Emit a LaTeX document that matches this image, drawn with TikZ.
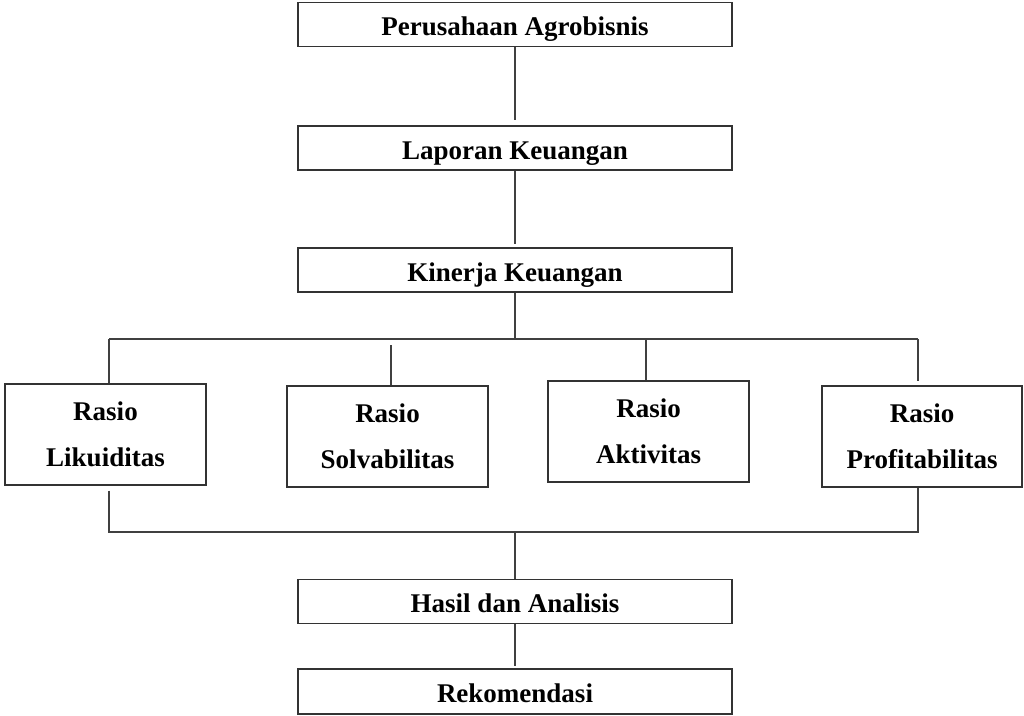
\documentclass[tikz,border=0pt]{standalone}
\usepackage{fontspec}
\setmainfont{Liberation Serif}
\usepackage{tikz}
\usetikzlibrary{positioning}

\begin{document}
\begin{tikzpicture}[x=1pt, y=-1pt,
  frame/.style={draw=black!80, line width=1.4pt, inner sep=0pt, align=center,
    font=\fontsize{27}{46}\selectfont\bfseries},
  box/.style={frame, minimum width=434pt, minimum height=44pt, text height=22pt, text depth=0pt},
  ratio/.style={frame, minimum width=201pt, minimum height=101pt},
  link/.style={draw=black!75, line width=1.4pt}]
\useasboundingbox (0,0) rectangle (1024,715);
% Upper chain
\node[box] (perusahaan) at (515, 24.5) {Perusahaan Agrobisnis};
\node[box] (laporan) at (515, 148) {Laporan Keuangan};
\node[box] (kinerja) at (515, 270) {Kinerja Keuangan};
\draw[link] (perusahaan.south) -- ++(0,73) coordinate (upA);
\draw[link] (laporan.south) -- ++(0,73) coordinate (upB);

% Ratio boxes
\node[ratio] (likuiditas) at (105.5, 434.5) {Rasio\\Likuiditas};
\node[ratio] (solvabilitas) at (387.5, 436.5) {Rasio\\Solvabilitas};
\node[ratio] (aktivitas) at (648.5, 431.5) {Rasio\\Aktivitas};
\node[ratio, minimum width=200pt] (profitabilitas) at (922, 436.5) {Rasio\\Profitabilitas};

% Upper bus
\coordinate (busL) at (109, 339);
\coordinate (busR) at (918, 339);
\coordinate (busS) at (391, 345);
\coordinate (busA) at (646, 339);
\draw[link] (kinerja.south) -- (kinerja.south |- busL);
\draw[link] (busL) -- (busR);
\draw[link] (busL) -- (busL |- likuiditas.north);
\draw[link] (busS) -- (busS |- solvabilitas.north);
\draw[link] (busA) -- (busA |- aktivitas.north);
\draw[link] (busR) -- ([yshift=4pt]busR |- profitabilitas.north);

% Lower bus
\coordinate (lowL) at (109, 532);
\coordinate (lowR) at (918, 532);
\draw[link] ([yshift=-5pt]lowL |- likuiditas.south) -- (lowL) -- (lowR) -- (lowR |- profitabilitas.south);

% Lower chain
\node[box] (hasil) at (515, 601.5) {Hasil dan Analisis};
\node[box, minimum height=45pt] (rekomendasi) at (515, 691.5) {Rekomendasi};
\draw[link] (hasil.north |- lowL) -- (hasil.north);
\draw[link] (hasil.south) -- ([yshift=2pt]rekomendasi.north);
\end{tikzpicture}
\end{document}
